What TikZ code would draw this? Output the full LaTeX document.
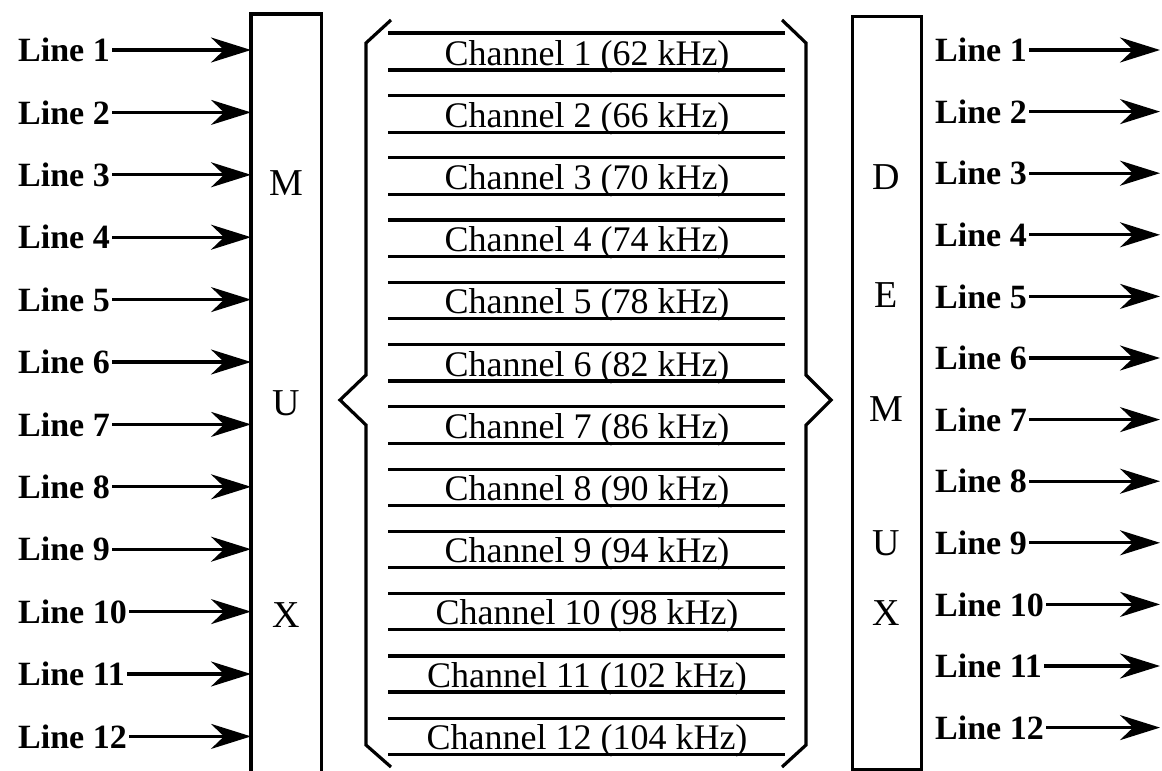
\documentclass[tikz,border=0pt]{standalone}
\usepackage{fontspec}
\setmainfont{Liberation Serif}
\usetikzlibrary{arrows.meta}
\begin{document}
\begin{tikzpicture}[x=1pt,y=-1pt,
  lab/.style={font=\fontsize{34}{40}\selectfont\bfseries, inner sep=0pt},
  chan/.style={font=\fontsize{36}{40}\selectfont, inner sep=0pt, anchor=base},
  letter/.style={font=\fontsize{38}{44}\selectfont, inner sep=0pt},
  sig/.style={line width=3.2pt, shorten <=2pt, -{Stealth[length=40pt,width=25pt,inset=13pt]}},
  heavy/.style={line width=3.2pt},
]
\clip (0,0) rectangle (1162,771);

% multiplexer (open at the bottom edge)
\node[minimum width=70pt, minimum height=800pt, anchor=north west, inner sep=0pt] (mux) at (251,14) {};
\draw[heavy] (mux.south west) -- (mux.north west) -- (mux.north east) -- (mux.south east);
\node[letter] (muxM) at (286,183) {M};
\node[letter] (muxU) at (286,403) {U};
\node[letter] (muxX) at (286,615) {X};

% demultiplexer
\node[draw, heavy, minimum width=69pt, minimum height=753pt, anchor=north west, inner sep=0pt] (demux) at (851,15) {};
\node[letter] (dmD) at (886,177) {D};
\node[letter] (dmE) at (886,295) {E};
\node[letter] (dmM) at (886,409) {M};
\node[letter] (dmU) at (886,543) {U};
\node[letter] (dmX) at (886,613) {X};

% input lines
\foreach \i in {1,...,12} {
  \pgfmathsetmacro\yy{50+62.4*(\i-1)}
  \node[lab, anchor=west] (l\i) at (18,\yy) {Line \i};
  \draw[sig] (l\i.east) -- (l\i.east -| mux.west);
}

% output lines
\foreach \i in {1,...,12} {
  \pgfmathsetmacro\yy{50+61.6*(\i-1)}
  \node[lab, anchor=west] (r\i) at (935,\yy) {Line \i};
  \coordinate (re\i) at (1160,\yy);
  \draw[sig] (r\i.east) -- (re\i);
}

% channel bands
\foreach \i/\f in {1/62,2/66,3/70,4/74,5/78,6/82,7/86,8/90,9/94,10/98,11/102,12/104} {
  \pgfmathsetmacro\yt{33+62.3*(\i-1)}
  \pgfmathsetmacro\yb{70+62.2*(\i-1)}
  \draw[heavy] (388,\yt) -- (785,\yt);
  \draw[heavy] (388,\yb) -- (785,\yb);
  \node[chan] (ch\i) at (587,\yb-5) {Channel \i\ (\f\ kHz)};
}

% braces
\draw[heavy, line join=miter] (391,20) -- (366,43) -- (366,375) -- (340,400) -- (366,425) -- (366,745) -- (391,767);
\draw[heavy, line join=miter] (782,20) -- (806,43) -- (806,375) -- (831,400) -- (806,425) -- (806,745) -- (782,767);
\end{tikzpicture}
\end{document}
